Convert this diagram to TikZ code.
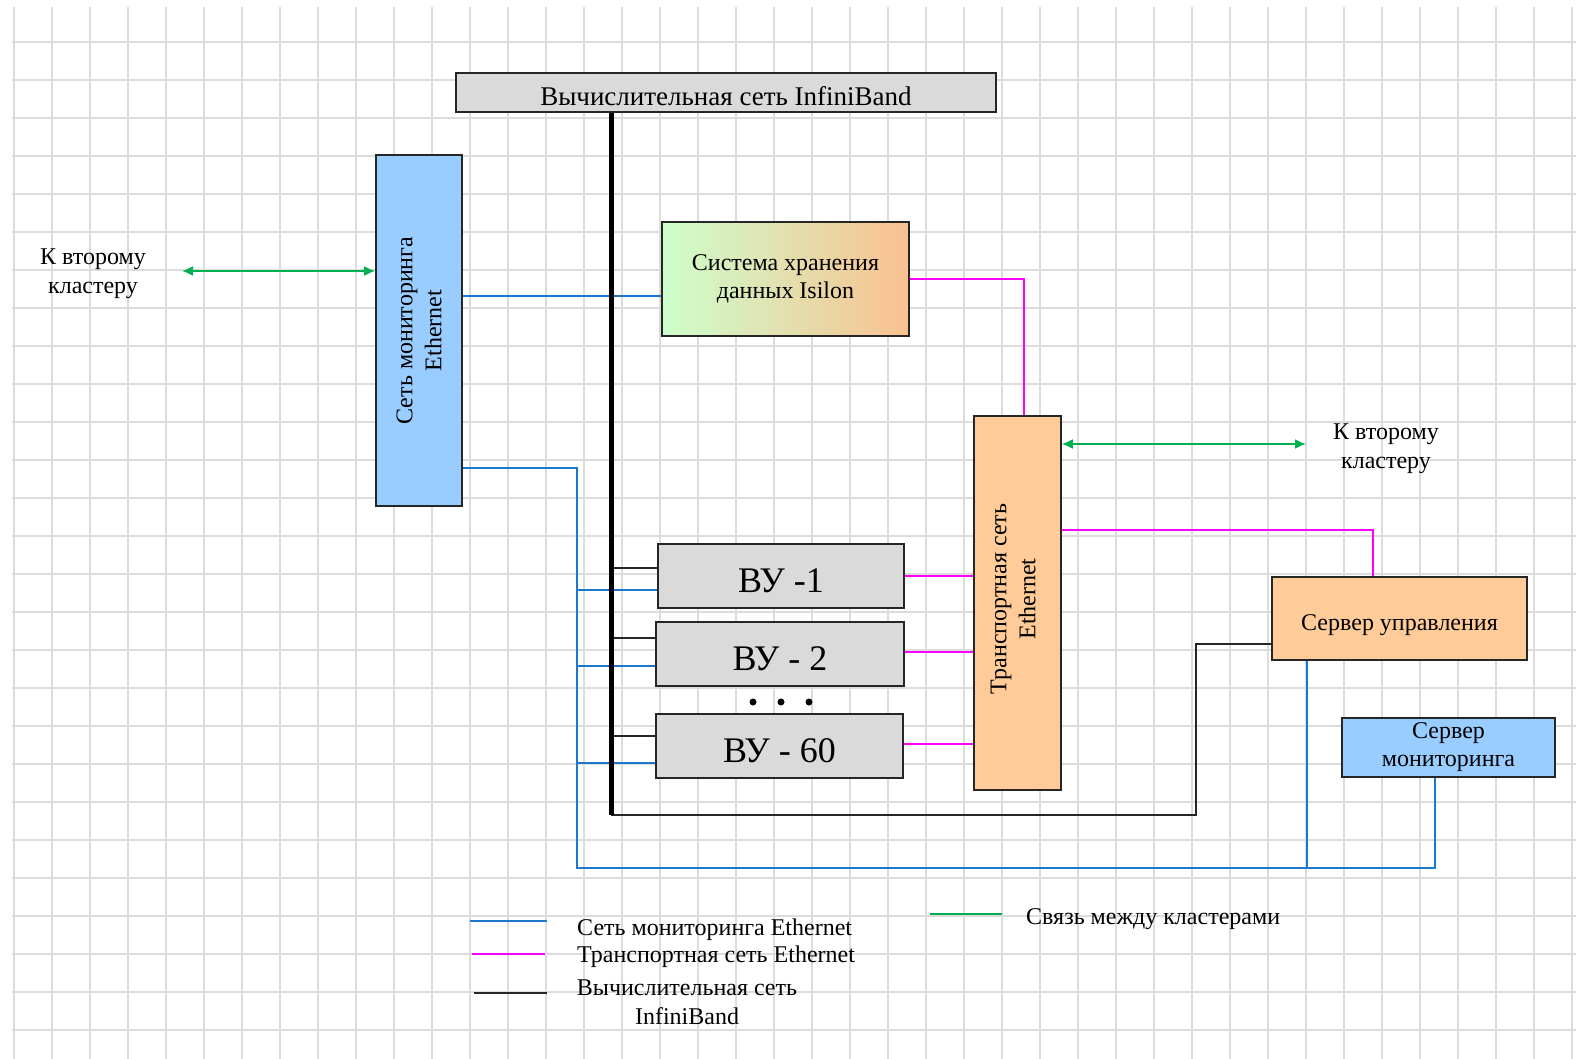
\documentclass[tikz,border=0pt]{standalone}
\usepackage{fontspec}
\setmainfont{Liberation Serif}
\usepackage{tikz}
\usetikzlibrary{arrows.meta}

\definecolor{monblue}{HTML}{1C78CC}
\definecolor{boxblue}{HTML}{99CCFF}
\definecolor{trmag}{HTML}{FF00FF}
\definecolor{lnkgreen}{HTML}{00B050}
\definecolor{boxorange}{HTML}{FFCC99}
\definecolor{boxgrey}{HTML}{DADADA}
\definecolor{islgreen}{HTML}{CCFFCC}
\definecolor{islorange}{HTML}{FAC090}
\definecolor{gridgrey}{HTML}{DCDCDC}

% text set a little lower than the middle of its box
\newcommand{\droptext}[2]{\raisebox{-#1pt}[\height][\depth]{#2}}

\tikzset{
  box/.style={draw=black!85,line width=1.6pt,inner sep=0pt,align=center,
    font=\fontsize{24}{28}\selectfont},
  lbl/.style={align=center,inner sep=0pt,font=\fontsize{24}{29}\selectfont},
  mon/.style={draw=monblue,line width=1.8pt},
  trn/.style={draw=trmag,line width=1.8pt},
  ibl/.style={draw=black!85,line width=1.6pt},
  lnk/.style={draw=lnkgreen,line width=1.8pt,<->,>={Latex[length=11pt,width=10pt]}},
  gridline/.style={draw=gridgrey,line width=1.5pt}
}

\begin{document}
\begin{tikzpicture}[x=1pt,y=-1pt]

\fill[white] (0,0) rectangle (1576,1059);
\useasboundingbox (0,0) rectangle (1576,1059);

% grid
\foreach \i in {0,...,41}
  \draw[gridline] ({14+38*\i},7) -- ({14+38*\i},1059);
\foreach \j in {0,...,26}
  \draw[gridline] (12,{42+38*\j}) -- (1576,{42+38*\j});

  \node (IB) at (726,92.5) [box,fill=boxgrey,minimum width=540,minimum height=39,
    font=\fontsize{27}{32}\selectfont] {\droptext{4}{Вычислительная сеть InfiniBand}};
  \node (M) at (419,330.5) [box,fill=boxblue,minimum width=86,minimum height=351] {};
  \node (S) at (785.5,279) [box,left color=islgreen,right color=islorange,
    minimum width=247,minimum height=114] {Система хранения\\данных Isilon};
  \node (T) at (1017.5,603) [box,fill=boxorange,minimum width=87,minimum height=374] {};
  \node (V1) at (781,576) [box,fill=boxgrey,minimum width=246,minimum height=64,
    font=\fontsize{36}{40}\selectfont] {\droptext{5}{ВУ -1}};
  \node (V2) at (780,654) [box,fill=boxgrey,minimum width=248,minimum height=64,
    font=\fontsize{36}{40}\selectfont] {\droptext{5}{ВУ - 2}};
  \node (V60) at (779.5,746) [box,fill=boxgrey,minimum width=247,minimum height=64,
    font=\fontsize{36}{40}\selectfont] {\droptext{5}{ВУ - 60}};
  \node (U) at (1399.5,618.5) [box,fill=boxorange,minimum width=255,minimum height=83]
    {\droptext{7}{Сервер управления}};
  \node (MS) at (1448.5,747.5) [box,fill=boxblue,minimum width=213,minimum height=59] {Сервер\\мониторинга};

\node (Mt) at (M.center) [lbl,rotate=90] {Сеть мониторинга\\Ethernet};
\node (Tt) at (1013,599) [lbl,rotate=90] {Транспортная сеть\\Ethernet};
\node (L1) at (93,274) [lbl] {К второму\\кластеру};
\node (L2) at (1386,449) [lbl] {К второму\\кластеру};
\foreach \k/\x in {1/753,2/781,3/809}
  \node (d\k) at (\x,702) [circle,fill=black,inner sep=0pt,minimum size=7pt] {};

\coordinate (bus) at (611,815);
\coordinate (c1) at (1196,815);
\coordinate (m1) at (577,468);
\coordinate (m2) at (577,868);
\coordinate (g1) at (182,271);
\coordinate (g2) at (1306,444);

% monitoring Ethernet
\draw[mon]
   ([yshift=-17]S.west) -- ([yshift=-17]S.west -| M.east)
   (M.east |- m1) -- (m1) -- (m2) -| ([xshift=-13.5]MS.south)
   ([xshift=-92.5]U.south) -- ([xshift=-92.5]U.south |- m2)
   ([yshift=-14]V1.west) -- ([yshift=-14]V1.west -| m1)
   ([yshift=-12]V2.west) -- ([yshift=-12]V2.west -| m1)
   ([yshift=-17]V60.west) -- ([yshift=-17]V60.west -| m1);

% transport Ethernet
\draw[trn]
   (S.east) -| ([xshift=6.5]T.north)
   ([yshift=73]T.east) -| ([xshift=-26.5]U.north)
   (V1.east) -- (V1.east -| T.west)
   ([yshift=2]V2.east) -- ([yshift=2]V2.east -| T.west)
   ([yshift=2]V60.east) -- ([yshift=2]V60.east -| T.west);

% InfiniBand
\draw[ibl]
   ([yshift=8]V1.west) -- ([yshift=8]V1.west -| bus)
   ([yshift=16]V2.west) -- ([yshift=16]V2.west -| bus)
   ([yshift=10]V60.west) -- ([yshift=10]V60.west -| bus)
   (bus) -- (c1) |- ([yshift=-25.5]U.west);
\draw[ibl,line width=5pt,draw=black] (IB.south -| bus) -- (bus);

% links to the second cluster
\draw[lnk] (g1) -- (g1 -| M.west);
\draw[lnk] ([yshift=159]T.east) -- (g2);

% legend
\coordinate (la1) at (470,921); \coordinate (lb1) at (547,921);
\coordinate (la2) at (472,954); \coordinate (lb2) at (545,954);
\coordinate (la3) at (474,993); \coordinate (lb3) at (547,993);
\coordinate (la4) at (930,914); \coordinate (lb4) at (1002,914);
\draw[mon] (la1) -- (lb1);
\draw[trn] (la2) -- (lb2);
\draw[ibl] (la3) -- (lb3);
\draw[lnkgreen,line width=1.8pt] (la4) -- (lb4);
\node (E1) at (577,930) [lbl,anchor=west] {Сеть мониторинга Ethernet};
\node (E2) at (577,957) [lbl,anchor=west] {Транспортная сеть Ethernet};
\node (E3) at (687,1002) [lbl] {Вычислительная сеть\\InfiniBand};
\node (E4) at (1026,919) [lbl,anchor=west] {Связь между кластерами};

\end{tikzpicture}
\end{document}
